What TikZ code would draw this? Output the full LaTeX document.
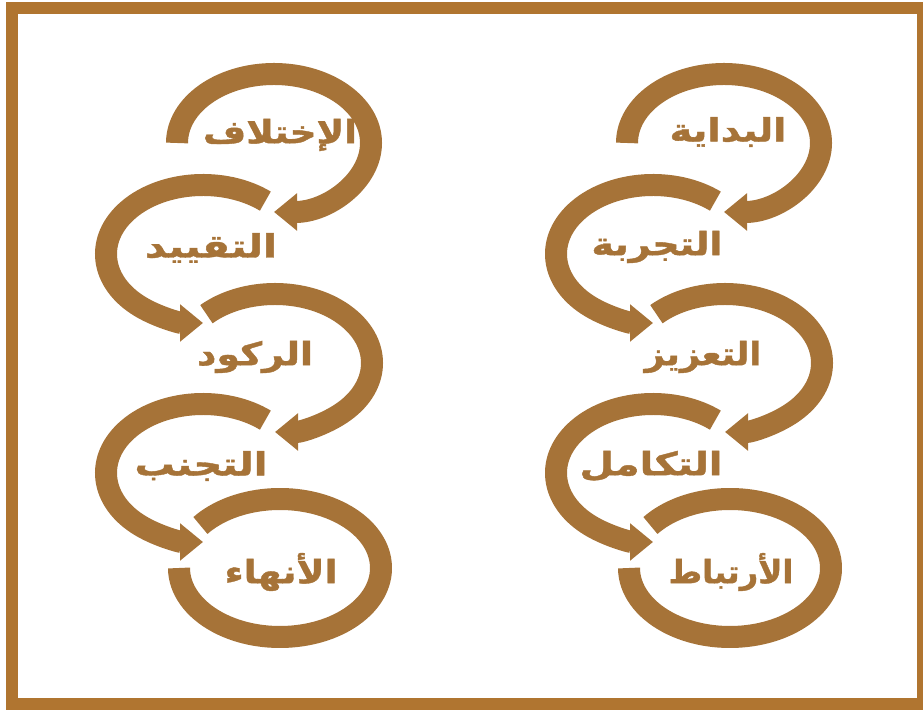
\documentclass[tikz,border=0pt]{standalone}
\usepackage{fontspec}
\usepackage{graphicx}
\newfontfamily\arabicfont[Script=Arabic, BoldFeatures={FakeBold=1.2}]{DejaVu Sans}
\TeXXeTstate=1
\usetikzlibrary{arrows.meta}
\definecolor{ringbrown}{RGB}{166,115,56}
\definecolor{framebrown}{RGB}{176,117,48}
\newcommand{\ar}[2]{\resizebox{#1pt}{\height}{\beginR #2\endR}}
\begin{document}
\begin{tikzpicture}[x=1pt,y=1pt,
  ring/.style={draw=ringbrown, line width=22pt},
  ringarrow/.style={ring, -{Triangle[length=23pt,width=36pt]}},
  lab/.style={text=ringbrown, font=\arabicfont\bfseries\fontsize{32}{34}\selectfont, inner sep=0pt, anchor=center},
]
\useasboundingbox (0,0) rectangle (923,711);
\draw[framebrown, line width=12pt] (12,7) rectangle (923,703);

% centres of the rings
\coordinate (R1) at (724,568);
\coordinate (R2) at (653,457);
\coordinate (R3) at (725,348);
\coordinate (R4) at (653,238);
\coordinate (R5) at (730,143);
\coordinate (L1) at (274,568);
\coordinate (L2) at (203,457);
\coordinate (L3) at (275,348);
\coordinate (L4) at (203,238);
\coordinate (L5) at (280,143);

% right column
\draw[ringarrow] ([shift={(180:97 and 69)}]R1) arc[start angle=180, end angle=-90, x radius=97, y radius=69];
\draw[ringarrow] ([shift={(50:97 and 69)}]R2) arc[start angle=50, end angle=270, x radius=97, y radius=69];
\draw[ringarrow] ([shift={(135:97 and 69)}]R3) arc[start angle=135, end angle=-90, x radius=97, y radius=69];
\draw[ringarrow] ([shift={(50:97 and 69)}]R4) arc[start angle=50, end angle=270, x radius=97, y radius=69];
\draw[ring] ([shift={(142:101 and 69)}]R5) arc[start angle=142, end angle=-180, x radius=101, y radius=69];

% left column
\draw[ringarrow] ([shift={(180:97 and 69)}]L1) arc[start angle=180, end angle=-90, x radius=97, y radius=69];
\draw[ringarrow] ([shift={(50:97 and 69)}]L2) arc[start angle=50, end angle=270, x radius=97, y radius=69];
\draw[ringarrow] ([shift={(135:97 and 69)}]L3) arc[start angle=135, end angle=-90, x radius=97, y radius=69];
\draw[ringarrow] ([shift={(50:97 and 69)}]L4) arc[start angle=50, end angle=270, x radius=97, y radius=69];
\draw[ring] ([shift={(142:101 and 69)}]L5) arc[start angle=142, end angle=-180, x radius=101, y radius=69];

% labels
\node[lab] (tR1) at (728,579) {\ar{117}{البداية}};
\node[lab] (tR2) at (657,464) {\ar{131}{التجربة}};
\node[lab] (tR3) at (703,354) {\ar{117}{التعزيز}};
\node[lab] (tR4) at (651,245) {\ar{143}{التكامل}};
\node[lab] (tR5) at (731,139) {\ar{125}{الأرتباط}};
\node[lab] (tL1) at (280,576) {\ar{154}{الإختلاف}};
\node[lab] (tL2) at (211,463) {\ar{132}{التقييد}};
\node[lab] (tL3) at (255,354) {\ar{116}{الركود}};
\node[lab] (tL4) at (201,245) {\ar{133}{التجنب}};
\node[lab] (tL5) at (281,139) {\ar{113}{الأنهاء}};
\end{tikzpicture}
\end{document}
